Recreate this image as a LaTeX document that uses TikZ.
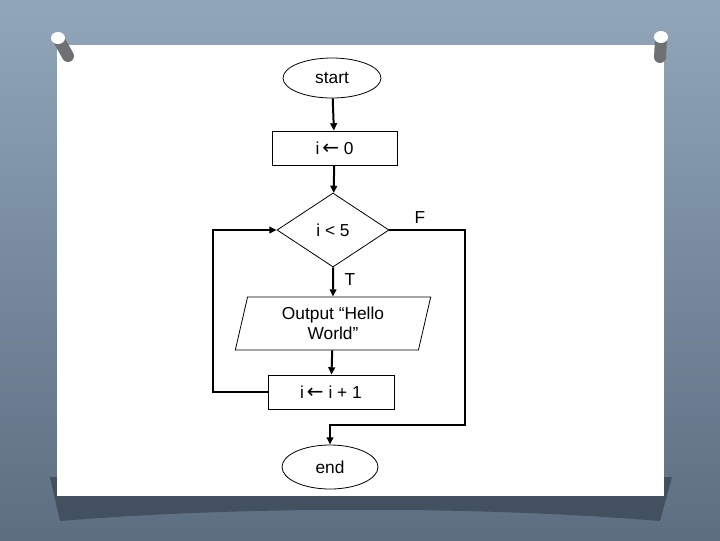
\documentclass[tikz,border=0pt]{standalone}
\usepackage{fontspec}
\setmainfont{Liberation Sans}
\newfontfamily\arrowfont{DejaVu Sans}
\usetikzlibrary{arrows.meta,shapes.geometric}
\definecolor{wallblue}{RGB}{146,166,186}
\definecolor{walldark}{RGB}{92,110,128}
\definecolor{slideshadow}{RGB}{66,80,96}
\definecolor{pinshade}{RGB}{110,112,116}
\newcommand{\getsarrow}{{\arrowfont\fontsize{15}{15}\selectfont←}}

\begin{document}
\begin{tikzpicture}[
  x=.75pt,y=-.75pt,
  every node/.style={font=\fontsize{13}{15}\selectfont,text=black},
  shapeline/.style={draw=black,line width=.6pt,inner sep=1pt,align=center},
  terminal/.style={shapeline,ellipse},
  process/.style={shapeline,rectangle},
  decision/.style={shapeline,diamond},
  io/.style={shapeline,trapezium,trapezium left angle=78,trapezium right angle=102,trapezium stretches=true},
  flow/.style={-{Triangle[length=5.5pt,width=5pt]},line width=1.5pt,line join=miter}
]
\path[use as bounding box] (0,0) rectangle (720,540);

% Wall, the slide's shadow and the slide itself.
\shade[top color=wallblue,bottom color=walldark] (0,0) rectangle (720,540);
\fill[slideshadow] (50,477) -- (672,477) -- (660,521)
  .. controls (480,506) and (240,506) .. (60,521) -- cycle;
\fill[white] (57,45) rectangle (664,496);

% Two pins holding the slide.
\draw[pinshade,line width=9pt,line cap=round] (59,40) -- (68,56);
\fill[white] (58,38) ellipse (7 and 6);
\draw[pinshade,line width=9pt,line cap=round] (661,39) -- (660,57);
\fill[white] (661,37) ellipse (7 and 6);

% Flowchart nodes.
\node[terminal,minimum width=73.5pt,minimum height=30pt] (start) at (332,78) {start};
\node[process,minimum width=93.75pt,minimum height=25.5pt] (init) at (334.5,148) {i\,\getsarrow\ 0};
\node[decision,minimum width=84pt,minimum height=55.5pt] (cond) at (333,230) {i < 5};
\node[io,minimum width=147pt,minimum height=39.75pt] (show) at (333,323.5) {Output “Hello\\World”};
\node[process,minimum width=94.5pt,minimum height=25.5pt] (inc) at (331,392) {i\,\getsarrow\ i + 1};
\node[terminal,minimum width=72pt,minimum height=33pt] (stop) at (330,467) {end};

\coordinate (loopL) at (213,300);
\coordinate (exitR) at (465,425);

% Connectors.
\draw[flow] (start) -- (init);
\draw[flow] (init) -- (cond);
\draw[flow] (cond) -- (show);
\draw[flow] (show) -- (inc);
\draw[flow] (inc.west) -| (loopL) |- (cond.west);
\draw[flow] (cond.east) -| (exitR) -| (stop.north);

\node (lblF) at (420,218) {F};
\node (lblT) at (350,280) {T};
\end{tikzpicture}
\end{document}
